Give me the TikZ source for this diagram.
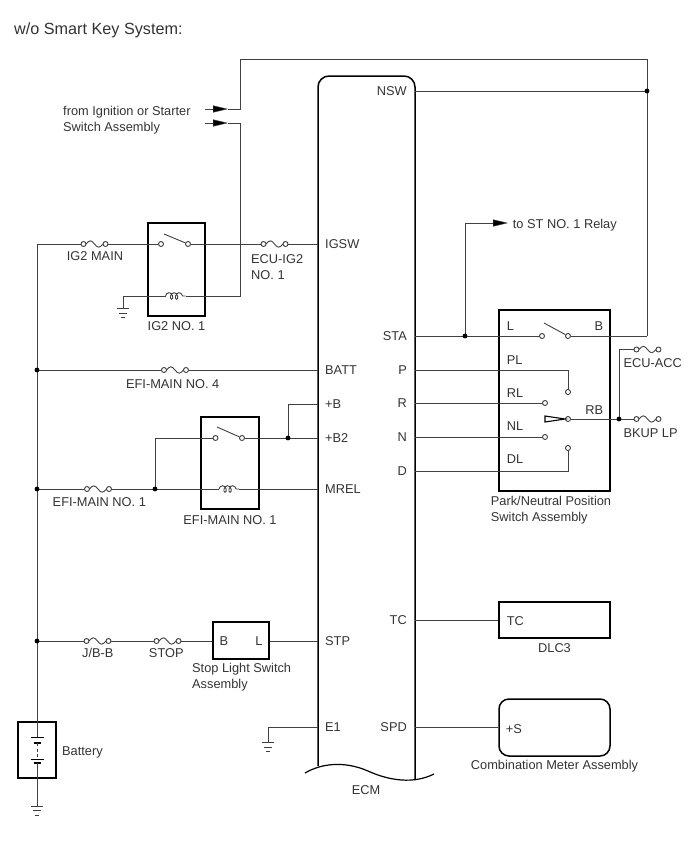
\documentclass[tikz,border=0pt]{standalone}
\usepackage{fontspec}
\setmainfont{Liberation Sans}
\usetikzlibrary{arrows.meta,decorations.pathmorphing,positioning}

\tikzset{
  wire/.style={line width=0.9pt, draw=black!75},
  box/.style={draw=black, line width=1.5pt, inner sep=0pt},
  lbl/.style={font=\fontsize{12.8}{15.5}\selectfont, text=black!80, inner sep=0pt, text height=9.2pt, text depth=0pt},
  jdot/.style={circle, fill=black, inner sep=0pt, minimum size=4.8pt},
  contact/.style={circle, draw=black!75, fill=white, line width=0.9pt, inner sep=0pt, minimum size=5pt},
  tip/.style={-{Triangle[length=15pt,width=7pt,fill=black,line width=0.4pt]}},
  fuse/.pic={
    \node[contact] (-l) at (-11,0) {};
    \node[contact] (-r) at (11,0) {};
    \draw[wire] (-8.4,0) sin (-4.2,-3.2) cos (0,0) sin (4.2,3.2) cos (8.4,0);
  },
  coilsym/.pic={
    \coordinate (-l) at (-10,0);
    \coordinate (-r) at (10,0);
    \draw[wire, decorate, decoration={coil, aspect=0.7, segment length=5pt, amplitude=3.3pt}] (-10,0) -- (10,0);
  },
  gnd/.pic={
    \draw[wire] (-6,0) -- (6,0) (-4,4.5) -- (4,4.5) (-2,9) -- (2,9);
  },
}

\begin{document}
\begin{tikzpicture}[x=1pt,y=-1pt]
\useasboundingbox (0,0) rectangle (688,852);

\node[lbl, font=\fontsize{16.2}{19}\selectfont, text height=11.6pt, anchor=west] (title) at (14,28.3) {w/o Smart Key System:};

% ECM
\draw[box, rounded corners=11pt] (318,766) -- (318,76) -- (415,76) -- (415,780);
\draw[line width=1.2pt] (305,773) .. controls (322,763) and (345,761) .. (368,771) .. controls (390,781) and (414,784) .. (434,774);
\node[lbl] (ecm) at (366,790) {ECM};
\foreach \n/\t/\y in {IGSW/IGSW/244, BATT/BATT/370, PB/+B/404, PBtwo/+B2/438, MREL/MREL/489, STP/STP/641, Eone/E1/727}{
  \coordinate (ecm\n) at (318,\y);
  \node[lbl, anchor=west] at (325,\y) {\t};
}
\foreach \n/\t/\y in {NSW/NSW/91, STA/STA/336, P/P/370, R/R/403, N/N/437, D/D/471, TC/TC/620, SPD/SPD/727}{
  \coordinate (ecm\n) at (415,\y);
  \node[lbl, anchor=east] at (407,\y) {\t};
}

% battery and bus
\node[box, minimum width=38pt, minimum height=56pt] (bat) at (37,750) {};
\node[lbl, anchor=west] at (62,751) {Battery};
\draw[wire] (bat.north) -- (37,737);
\draw[line width=0.9pt] (30.5,737) -- (43.5,737) (30.5,759) -- (43.5,759);
\draw[line width=2pt] (33.5,743) -- (40.5,743) (33.5,763) -- (40.5,763);
\draw[wire, dash pattern=on 3pt off 2.5pt] (37,743) -- (37,759);
\coordinate (gBat) at (37,806);
\draw[wire] (37,763) -- (gBat);
\pic at (gBat) {gnd};

\coordinate (busBatt) at (37,370);
\coordinate (busMrel) at (37,489);
\coordinate (busStp) at (37,641);

% ignition inputs
\coordinate (ignTopS) at (205,109);
\coordinate (ignTop) at (228,109);
\coordinate (ignBotS) at (205,123);
\coordinate (ignBot) at (228,123);
\coordinate (bCorner) at (647,336);
\coordinate (nswJ) at (647,91);
\draw[wire, tip] (ignTopS) -- (ignTop);
\draw[wire, tip] (ignBotS) -- (ignBot);
\node[lbl, anchor=west] at (63,110.7) {from Ignition or Starter};
\node[lbl, anchor=west] at (63,126.7) {Switch Assembly};

% IG2 NO. 1 relay
\node[box, minimum width=57pt, minimum height=93pt] (ig2rly) at (176.5,269.5) {};
\node[lbl, below=4.5pt of ig2rly] {IG2 NO. 1};
\node[contact] (ig2a) at (161,244) {};
\node[contact] (ig2b) at (188,244) {};
\pic (figm) at (94.5,244) {fuse};
\pic (fecu) at (274.5,244) {fuse};
\pic (cig2) at (175.5,296) {coilsym};
\coordinate (gIg2) at (123,308.5);
\draw[wire] (bat.north) |- (figm-l);
\draw[wire] (figm-r) -- (ig2a);
\draw[wire] ([shift={(3,-10)}]ig2a.center) -- (ig2b);
\draw[wire] (ig2b) -- (fecu-l);
\draw[wire] (fecu-r) -- (ecmIGSW);
\draw[wire] (ignBot) -| (240,296) -- (cig2-r);
\draw[wire] (cig2-l) -| (gIg2);
\pic at (gIg2) {gnd};
\node[lbl] at (95,256) {IG2 MAIN};
\node[lbl, anchor=west] at (251,258.5) {ECU-IG2};
\node[lbl, anchor=west] at (251,274.5) {NO. 1};

% BATT
\pic (fefi4) at (175,370) {fuse};
\draw[wire] (busBatt) -- (fefi4-l);
\draw[wire] (fefi4-r) -- (ecmBATT);
\node[jdot] at (busBatt) {};
\node[lbl] at (172.7,384) {EFI-MAIN NO. 4};

% EFI-MAIN NO. 1 relay
\node[box, minimum width=58pt, minimum height=92pt] (efirly) at (230,463) {};
\node[lbl, below=5pt of efirly] {EFI-MAIN NO. 1};
\node[contact] (efia) at (215.5,438) {};
\node[contact] (efib) at (242,438) {};
\coordinate (mrelJ) at (155,489);
\coordinate (pbJ) at (288,438);
\pic (fefi1) at (98,489) {fuse};
\pic (cefi) at (229,489) {coilsym};
\draw[wire] (busMrel) -- (fefi1-l);
\draw[wire] (fefi1-r) -- (cefi-l);
\draw[wire] (cefi-r) -- (ecmMREL);
\draw[wire] (mrelJ) |- (efia);
\draw[wire] ([shift={(1.5,-11)}]efia.center) -- (efib);
\draw[wire] (efib) -- (ecmPBtwo);
\draw[wire] (pbJ) |- (ecmPB);
\node[jdot] at (busMrel) {};
\node[jdot] at (mrelJ) {};
\node[jdot] at (pbJ) {};
\node[lbl] at (99.3,502.3) {EFI-MAIN NO. 1};

% stop light switch
\node[box, minimum width=56pt, minimum height=37pt] (slsw) at (241,640.5) {};
\node[lbl, anchor=west] at (219.3,641) {B};
\node[lbl, anchor=east] at (262.7,641) {L};
\node[lbl, anchor=west] at (192,668.3) {Stop Light Switch};
\node[lbl, anchor=west] at (192,684.3) {Assembly};
\pic (fjb) at (97.5,641) {fuse};
\pic (fstop) at (167.5,641) {fuse};
\draw[wire] (busStp) -- (fjb-l);
\draw[wire] (fjb-r) -- (fstop-l);
\draw[wire] (fstop-r) -- (busStp -| slsw.west);
\draw[wire] (slsw.east |- ecmSTP) -- (ecmSTP);
\node[jdot] at (busStp) {};
\node[lbl] at (97.8,652.7) {J/B-B};
\node[lbl] at (166.3,652.7) {STOP};

% E1 ground
\coordinate (gE1) at (268,742.5);
\draw[wire] (ecmEone) -| (gE1);
\pic at (gE1) {gnd};

% top feed, NSW
\draw[wire] (ignTop) -| (240,59) -| (bCorner);
\draw[wire] (ecmNSW) -- (nswJ);
\node[jdot] at (nswJ) {};

% park/neutral position switch
\node[box, minimum width=111pt, minimum height=181pt] (pnsw) at (554.5,400.5) {};
\node[lbl, anchor=west] at (490.7,501) {Park/Neutral Position};
\node[lbl, anchor=west] at (490.7,516.7) {Switch Assembly};
\foreach \t/\y in {L/326, PL/360, RL/392.7, NL/426, DL/459.3}
  \node[lbl, anchor=west] at (506.7,\y) {\t};
\node[lbl, anchor=east] at (603.3,326) {B};
\node[lbl, anchor=east] at (603.3,410) {RB};
\node[contact] (pnL) at (542,336) {};
\node[contact] (pnB) at (568,336) {};
\node[contact] (pnP) at (568,392) {};
\node[contact] (pnR) at (545,403) {};
\node[contact] (pnRB) at (568,419) {};
\node[contact] (pnN) at (545,437) {};
\node[contact] (pnD) at (568,448) {};
\coordinate (staJ) at (465,336);
\coordinate (tost) at (508,223);
\coordinate (rbJ) at (619,419);
\draw[wire] (bCorner) -- (pnB);
\draw[wire] (ecmSTA) -- (pnL);
\draw[wire] ([shift={(2,-13)}]pnL.center) -- (pnB);
\draw[wire, tip] (staJ) |- (tost);
\node[lbl, anchor=west] at (512.7,224) {to ST NO. 1 Relay};
\draw[wire] (ecmP) -| (pnP);
\draw[wire] (ecmR) -- (pnR);
\draw[wire] (ecmN) -- (pnN);
\draw[wire] (ecmD) -| (pnD);
\draw[wire, line width=1.1pt, draw=black] ([shift={(-23,-3)}]pnRB.center) -- ([shift={(-3,0)}]pnRB.center) -- ([shift={(-23,3)}]pnRB.center) -- cycle;
\pic (facc) at (647.5,349.5) {fuse};
\pic (fbk) at (647.5,419) {fuse};
\draw[wire] (pnRB) -- (fbk-l);
\draw[wire] (rbJ) |- (facc-l);
\node[jdot] at (staJ) {};
\node[jdot] at (rbJ) {};
\node[lbl, anchor=west] at (623.3,363.3) {ECU-ACC};
\node[lbl, anchor=west] at (623.3,433.3) {BKUP LP};

% DLC3 and meter
\node[box, minimum width=111pt, minimum height=36pt] (dlc) at (554.5,620) {};
\node[lbl, anchor=west] at (506.7,620.7) {TC};
\node[lbl, below=4pt of dlc] {DLC3};
\draw[wire] (ecmTC) -- (ecmTC -| dlc.west);
\node[box, rounded corners=10pt, minimum width=111pt, minimum height=57pt] (meter) at (554.5,727.5) {};
\node[lbl, anchor=west] at (505.7,729) {+S};
\node[lbl, below=3.8pt of meter] {Combination Meter Assembly};
\draw[wire] (ecmSPD) -- (ecmSPD -| meter.west);

\end{tikzpicture}
\end{document}
